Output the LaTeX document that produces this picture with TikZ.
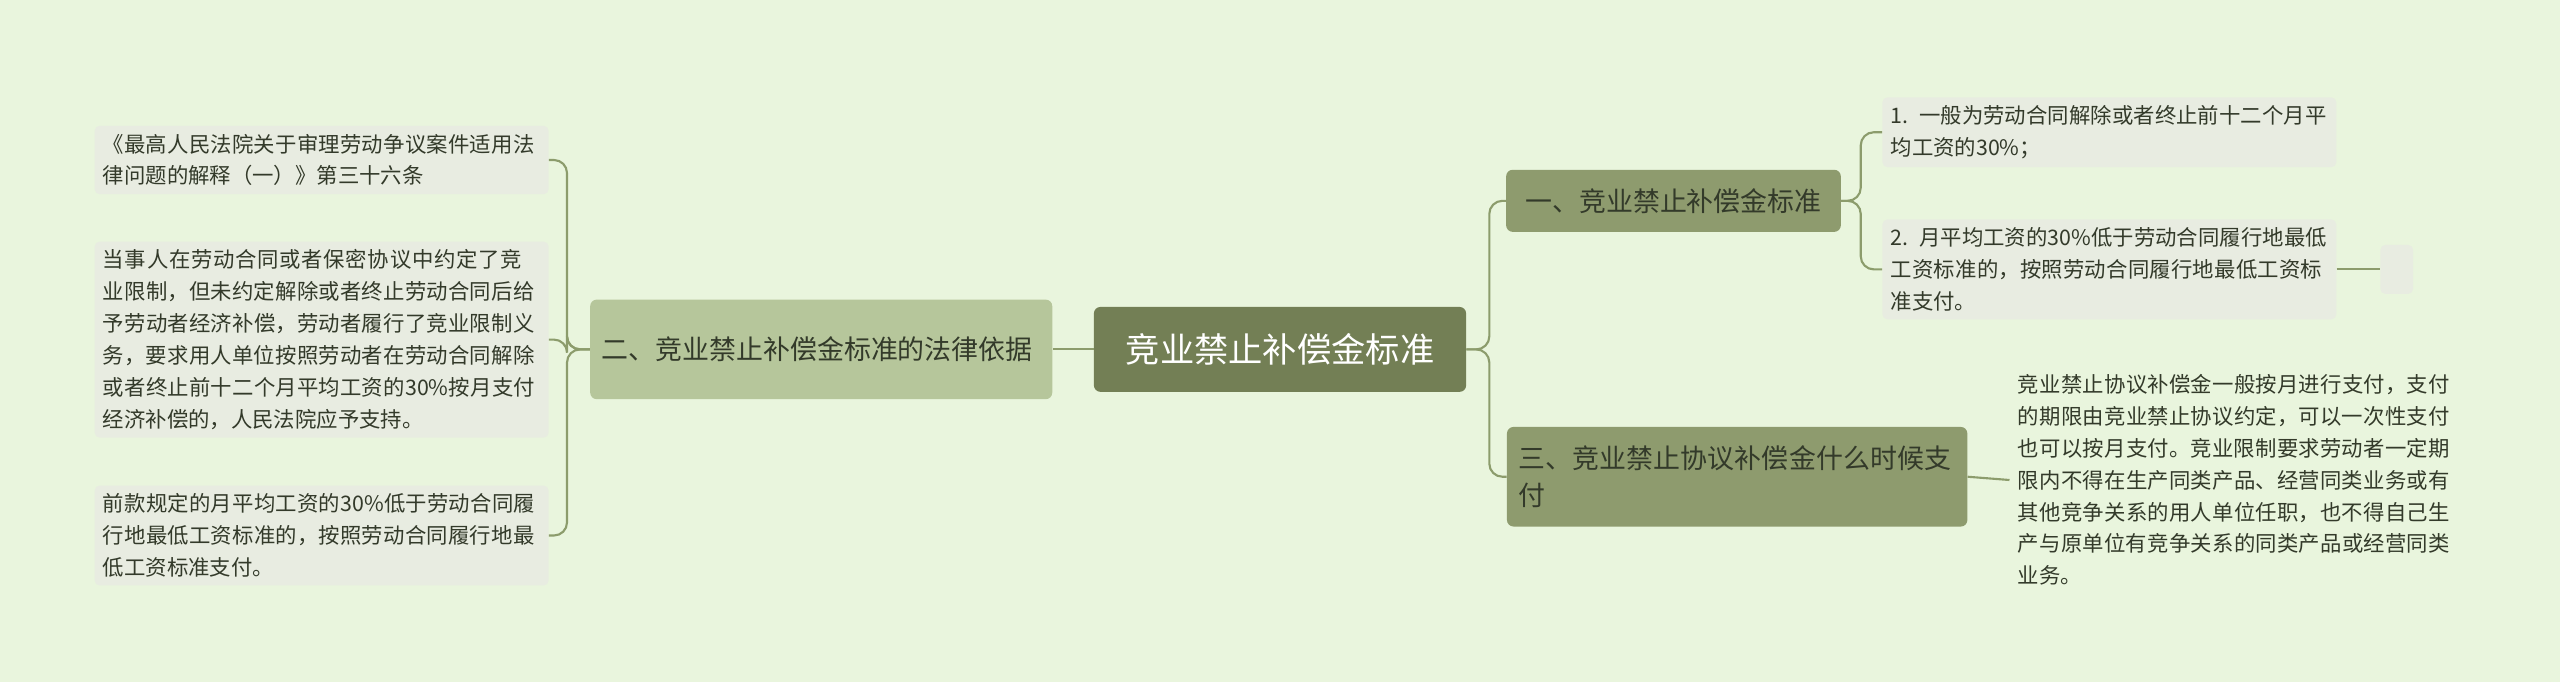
\documentclass[tikz,border=0pt]{standalone}
\usepackage{fontspec}
\setmainfont{Noto Sans CJK SC}
\XeTeXlinebreaklocale "zh"
\XeTeXlinebreakskip=0pt plus 1pt
\definecolor{bgc}{HTML}{E9F5DD}
\definecolor{rootc}{HTML}{737F55}
\definecolor{midc}{HTML}{8E9B6E}
\definecolor{leftc}{HTML}{B6C69B}
\definecolor{leafc}{HTML}{E8ECE1}
\definecolor{linec}{HTML}{8C9C6C}
\definecolor{txtc}{HTML}{333A2A}
\begin{document}
\begin{tikzpicture}[x=1pt,y=-1pt,
  root node/.style={fill=rootc,rounded corners=4pt,text=white,font=\fontsize{21}{24}\selectfont,minimum width=228pt,minimum height=52pt},
  branch node/.style={rounded corners=4pt,text=txtc,font=\fontsize{16.5}{23}\selectfont,align=left,inner sep=7pt},
  leaf node/.style={fill=leafc,rounded corners=3pt,text=txtc,font=\fontsize{13.1}{19.5}\selectfont,align=left,text width=268pt,inner sep=5pt},
  link/.style={draw=linec,line width=1.3pt,rounded corners=8pt}]
  \fill[bgc] (0,0) rectangle (1568,418);
  \useasboundingbox (0,0) rectangle (1568,418);

  \node[root node] (root) at (784,214) {竞业禁止补偿金标准};
  \node[branch node,fill=leftc,text width=269pt,minimum height=61pt] (law) at (503,214) {二、竞业禁止补偿金标准的法律依据};
  \node[branch node,fill=midc,minimum width=205pt,minimum height=38pt] (std) at (1025,123) {一、竞业禁止补偿金标准};
  \node[branch node,fill=midc,text width=268pt,minimum height=61pt] (pay) at (1064,292) {三、竞业禁止协议补偿金什么时候支付};

  \node[leaf node] (lawa) at (197,98) {《最高人民法院关于审理劳动争议案件适用法律问题的解释（一）》第三十六条};
  \node[leaf node] (lawb) at (197,208) {当事人在劳动合同或者保密协议中约定了竞业限制，但未约定解除或者终止劳动合同后给予劳动者经济补偿，劳动者履行了竞业限制义务，要求用人单位按照劳动者在劳动合同解除或者终止前十二个月平均工资的30\%按月支付经济补偿的，人民法院应予支持。};
  \node[leaf node] (lawc) at (197,328) {前款规定的月平均工资的30\%低于劳动合同履行地最低工资标准的，按照劳动合同履行地最低工资标准支付。};

  \node[leaf node] (stda) at (1292,81) {1. 一般为劳动合同解除或者终止前十二个月平均工资的30\%；};
  \node[leaf node] (stdb) at (1292,165) {2. 月平均工资的30\%低于劳动合同履行地最低工资标准的，按照劳动合同履行地最低工资标准支付。};
  \node[fill=leafc,rounded corners=3pt,minimum width=20pt,minimum height=30pt] (stdc) at (1468,165) {};
  \node[leaf node,fill=none] (paya) at (1370,294) {竞业禁止协议补偿金一般按月进行支付，支付的期限由竞业禁止协议约定，可以一次性支付也可以按月支付。竞业限制要求劳动者一定期限内不得在生产同类产品、经营同类业务或有其他竞争关系的用人单位任职，也不得自己生产与原单位有竞争关系的同类产品或经营同类业务。};

  % connectors
  \draw[link] (root.west) -- (law.east);
  \foreach \n in {lawa,lawb,lawc}
    \draw[link] (law.west) -- ++(-14,0) |- (\n.east);
  \foreach \n in {std,pay}
    \draw[link] (root.east) -- ++(14,0) |- (\n.west);
  \foreach \n in {stda,stdb}
    \draw[link] (std.east) -- ++(12,0) |- (\n.east -| stda.west);
  \draw[link] (stdb.east) -- (stdc.west);
  \draw[link] (pay.east) -- (paya.west);
\end{tikzpicture}
\end{document}
